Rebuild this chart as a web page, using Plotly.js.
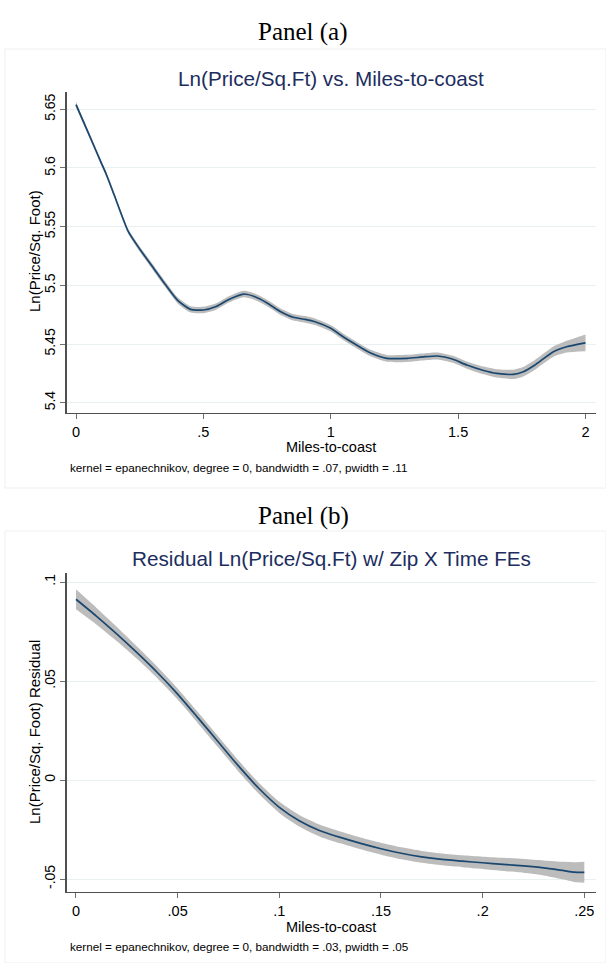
<!DOCTYPE html>
<html>
<head>
<meta charset="utf-8">
<script src="https://cdn.plot.ly/plotly-3.0.1.min.js"></script>
<style>html,body{margin:0;padding:0;background:#fff;}#chart{width:606px;height:963px;}</style>
</head>
<body>
<div id="chart"></div>
<script>
// Panel (a): Ln(Price/Sq.Ft) vs. Miles-to-coast
var milesA = [0, 0.05, 0.1, 0.12, 0.15, 0.205, 0.25, 0.3, 0.35, 0.4, 0.45, 0.5, 0.55, 0.6, 0.657, 0.7, 0.75, 0.8, 0.853, 0.9, 0.938, 1.0, 1.05, 1.09, 1.15, 1.22, 1.3, 1.36, 1.42, 1.48, 1.534, 1.6, 1.651, 1.717, 1.756, 1.8, 1.874, 1.926, 2.0];
var lnPriceA = [5.654, 5.629, 5.604, 5.594, 5.577, 5.546, 5.531, 5.516, 5.501, 5.487, 5.4795, 5.479, 5.482, 5.488, 5.4926, 5.4905, 5.485, 5.478, 5.4728, 5.471, 5.469, 5.4634, 5.456, 5.4506, 5.443, 5.4378, 5.4378, 5.439, 5.4398, 5.437, 5.4321, 5.4275, 5.425, 5.4242, 5.4264, 5.432, 5.4435, 5.4477, 5.451];
var ciHalfA = [0.0025, 0.002, 0.002, 0.002, 0.002, 0.002, 0.0022, 0.0024, 0.0025, 0.0026, 0.0027, 0.0027, 0.0027, 0.0027, 0.0028, 0.0028, 0.0028, 0.0028, 0.0028, 0.0028, 0.0028, 0.0028, 0.0028, 0.0028, 0.0028, 0.0029, 0.003, 0.003, 0.003, 0.003, 0.0031, 0.0033, 0.0036, 0.004, 0.004, 0.0041, 0.0043, 0.005, 0.0072];
var xTickValsA = [0, 0.5, 1, 1.5, 2];
var xTickTextA = ['0', '.5', '1', '1.5', '2'];
var yTickValsA = [5.4, 5.45, 5.5, 5.55, 5.6, 5.65];
var yTickTextA = ['5.4', '5.45', '5.5', '5.55', '5.6', '5.65'];

// Panel (b): Residual Ln(Price/Sq.Ft) w/ Zip X Time FEs
var milesB = [0, 0.01, 0.02, 0.03, 0.04, 0.05, 0.06, 0.07, 0.08, 0.09, 0.1, 0.11, 0.12, 0.13, 0.14, 0.15, 0.16, 0.17, 0.18, 0.19, 0.2, 0.21, 0.22, 0.23, 0.24, 0.245, 0.25];
var residB = [0.0913, 0.0828, 0.0738, 0.0643, 0.0543, 0.0434, 0.0314, 0.0192, 0.0070, -0.0043, -0.0138, -0.0207, -0.0256, -0.0290, -0.0320, -0.0347, -0.0370, -0.0388, -0.0401, -0.0410, -0.0418, -0.0426, -0.0434, -0.0444, -0.0458, -0.0465, -0.0466];
var ciHalfB = [0.005, 0.0042, 0.0036, 0.0031, 0.0029, 0.0028, 0.0028, 0.0028, 0.0028, 0.0028, 0.0028, 0.0029, 0.003, 0.003, 0.003, 0.003, 0.003, 0.003, 0.003, 0.003, 0.0031, 0.0033, 0.0035, 0.0038, 0.0045, 0.005, 0.0053];
var xTickValsB = [0, 0.05, 0.1, 0.15, 0.2, 0.25];
var xTickTextB = ['0', '.05', '.1', '.15', '.2', '.25'];
var yTickValsB = [-0.05, 0, 0.05, 0.1];
var yTickTextB = ['-.05', '0', '.05', '.1'];

var footA = 'kernel = epanechnikov, degree = 0, bandwidth = .07, pwidth = .11';
var footB = 'kernel = epanechnikov, degree = 0, bandwidth = .03, pwidth = .05';

function add(a, b, s) { return a.map(function (v, i) { return v + s * b[i]; }); }

var lineColor = '#1a476f';
var bandColor = 'rgb(188,188,188)';
var sans = 'Liberation Sans, Arial, sans-serif';
var serif = 'Liberation Serif, serif';

function bandTraces(x, y, hw, xa, ya) {
  return [
    {x: x, y: add(y, hw, -1), xaxis: xa, yaxis: ya, mode: 'lines', line: {width: 0, color: bandColor, shape: 'spline', smoothing: 0.6}, hoverinfo: 'skip'},
    {x: x, y: add(y, hw, 1), xaxis: xa, yaxis: ya, mode: 'lines', fill: 'tonexty', fillcolor: bandColor, line: {width: 0, color: bandColor, shape: 'spline', smoothing: 0.6}, hoverinfo: 'skip'},
    {x: x, y: y, xaxis: xa, yaxis: ya, mode: 'lines', line: {color: lineColor, width: 1.7, shape: 'spline', smoothing: 0.6}}
  ];
}

var data = bandTraces(milesA, lnPriceA, ciHalfA, 'x', 'y').concat(bandTraces(milesB, residB, ciHalfB, 'x2', 'y2'));

var H = 963, W = 606;
function py(px) { return 1 - px / H; }
function pxx(px) { return px / W; }

var xCommon = {
  ticks: 'outside', ticklen: 5, tickwidth: 1, tickcolor: '#707070',
  showline: true, linecolor: '#505050', linewidth: 1.5,
  showgrid: false, zeroline: false,
  tickfont: {family: sans, size: 14.5, color: '#000'}
};
var yCommon = {
  ticks: 'outside', ticklen: 5, tickwidth: 1, tickcolor: '#707070',
  showline: true, linecolor: '#505050', linewidth: 1.5,
  showgrid: true, gridcolor: '#e8f0f2', gridwidth: 1, zeroline: false,
  tickangle: -90,
  tickfont: {family: sans, size: 14, color: '#000'}
};
function merge(a, b) { var o = {}; for (var k in a) o[k] = a[k]; for (var k2 in b) o[k2] = b[k2]; return o; }

var dom = [pxx(66.7), pxx(596)];

var layout = {
  width: W, height: H,
  margin: {l: 0, r: 0, t: 0, b: 0},
  paper_bgcolor: '#fff', plot_bgcolor: '#fff',
  showlegend: false,
  xaxis: merge(xCommon, {domain: dom, anchor: 'y', range: [-0.0365, 2.0412], tickmode: 'array', tickvals: xTickValsA, ticktext: xTickTextA}),
  yaxis: merge(yCommon, {domain: [py(412.7), py(91.7)], anchor: 'x', range: [5.3915, 5.665], tickmode: 'array', tickvals: yTickValsA, ticktext: yTickTextA}),
  xaxis2: merge(xCommon, {domain: dom, anchor: 'y2', range: [-0.00457, 0.25574], tickmode: 'array', tickvals: xTickValsB, ticktext: xTickTextB}),
  yaxis2: merge(yCommon, {domain: [py(891.7), py(572.7)], anchor: 'x2', range: [-0.05641, 0.1047], tickmode: 'array', tickvals: yTickValsB, ticktext: yTickTextB}),
  shapes: [
    {type: 'rect', xref: 'paper', yref: 'paper', x0: pxx(5), x1: pxx(606), y0: py(488), y1: py(49), line: {color: '#efefef', width: 1}, layer: 'below'},
    {type: 'rect', xref: 'paper', yref: 'paper', x0: pxx(5), x1: pxx(606), y0: py(963), y1: py(531), line: {color: '#efefef', width: 1}, layer: 'below'}
  ],
  annotations: [
    {text: 'Panel (a)', xref: 'paper', yref: 'paper', x: 0.5, y: py(32), xanchor: 'center', yanchor: 'middle', showarrow: false, font: {family: serif, size: 25, color: '#000'}},
    {text: 'Ln(Price/Sq.Ft) vs. Miles-to-coast', xref: 'paper', yref: 'paper', x: pxx(331.3), y: py(78), xanchor: 'center', yanchor: 'middle', showarrow: false, font: {family: sans, size: 20.7, color: '#1c2d5e'}},
    {text: 'Miles-to-coast', xref: 'paper', yref: 'paper', x: pxx(331.3), y: py(447.5), xanchor: 'center', yanchor: 'middle', showarrow: false, font: {family: sans, size: 14.5, color: '#000'}},
    {text: footA, xref: 'paper', yref: 'paper', x: pxx(67.5), y: py(467), xanchor: 'left', yanchor: 'middle', showarrow: false, font: {family: sans, size: 11.7, color: '#000'}},
    {text: 'Ln(Price/Sq. Foot)', xref: 'paper', yref: 'paper', x: pxx(34), y: py(251), xanchor: 'center', yanchor: 'middle', textangle: -90, showarrow: false, font: {family: sans, size: 15, color: '#000'}},

    {text: 'Panel (b)', xref: 'paper', yref: 'paper', x: 0.5, y: py(516), xanchor: 'center', yanchor: 'middle', showarrow: false, font: {family: serif, size: 25, color: '#000'}},
    {text: 'Residual Ln(Price/Sq.Ft) w/ Zip X Time FEs', xref: 'paper', yref: 'paper', x: pxx(331.3), y: py(558), xanchor: 'center', yanchor: 'middle', showarrow: false, font: {family: sans, size: 20.7, color: '#1c2d5e'}},
    {text: 'Miles-to-coast', xref: 'paper', yref: 'paper', x: pxx(331.3), y: py(927), xanchor: 'center', yanchor: 'middle', showarrow: false, font: {family: sans, size: 14.5, color: '#000'}},
    {text: footB, xref: 'paper', yref: 'paper', x: pxx(67.5), y: py(946), xanchor: 'left', yanchor: 'middle', showarrow: false, font: {family: sans, size: 11.7, color: '#000'}},
    {text: 'Ln(Price/Sq. Foot) Residual', xref: 'paper', yref: 'paper', x: pxx(34), y: py(732), xanchor: 'center', yanchor: 'middle', textangle: -90, showarrow: false, font: {family: sans, size: 15, color: '#000'}}
  ]
};

Plotly.newPlot('chart', data, layout, {displayModeBar: false, staticPlot: true});
</script>
</body>
</html>
